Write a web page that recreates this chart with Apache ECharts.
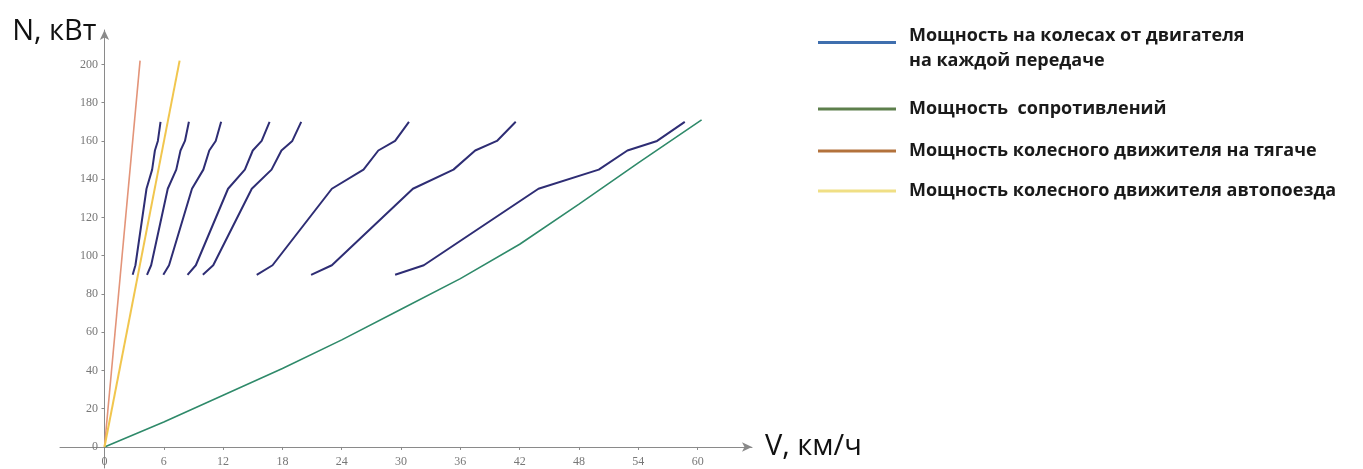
<!DOCTYPE html>
<html>
<head>
<meta charset="utf-8">
<script src="https://cdn.jsdelivr.net/npm/echarts@6/dist/echarts.min.js"></script>
<style>
  html, body { margin: 0; padding: 0; background: #fff; }
  #main { width: 1363px; height: 469px; }
</style>
</head>
<body>
<div id="main"></div>
<script>
// мощность на колесах - одинаковые уровни N для всех передач
var gearPower = [90, 95, 135, 145, 155, 160, 170];
var gear1 = [2.85, 3.13, 4.25, 4.82, 5.10, 5.40, 5.67];
var gear2 = [4.30, 4.72, 6.40, 7.26, 7.69, 8.14, 8.54];
var gear3 = [5.95, 6.53, 8.85, 10.0, 10.6, 11.25, 11.8];
var gear4 = [8.40, 9.24, 12.5, 14.2, 15.0, 15.9, 16.7];
var gear5 = [9.95, 11.0, 14.9, 16.9, 17.9, 19.0, 19.9];
var gear6 = [15.4, 17.0, 23.0, 26.2, 27.7, 29.4, 30.8];
var gear7 = [20.9, 23.0, 31.2, 35.3, 37.5, 39.7, 41.6];
var gear8 = [29.4, 32.3, 43.9, 50.0, 52.9, 55.9, 58.7];

// мощность сопротивлений
var resistSpeed = [0, 6, 12, 18, 24, 30, 36, 42, 48, 54, 60.4];
var resistPower = [0, 13, 27, 41, 56, 72, 88, 106, 127, 148.5, 171];

// колесный движитель
var tractorSpeed = [0, 3.6];
var tractorPower = [0, 202];
var trainSpeed = [0, 7.6];
var trainPower = [0, 202];

var xTicks = [0, 6, 12, 18, 24, 30, 36, 42, 48, 54, 60];
var yTicks = [0, 20, 40, 60, 80, 100, 120, 140, 160, 180, 200];

var nameGear = 'Мощность на колесах от двигателя\nна каждой передаче';
var nameResist = 'Мощность  сопротивлений';
var nameTractor = 'Мощность колесного движителя на тягаче';
var nameTrain = 'Мощность колесного движителя автопоезда';

function pairs(xs, ys) {
    var out = [];
    for (var i = 0; i < xs.length; i++) {
        out.push([xs[i], ys[i]]);
    }
    return out;
}

var series = [];
var gears = [gear1, gear2, gear3, gear4, gear5, gear6, gear7, gear8];
for (var g = 0; g < gears.length; g++) {
    series.push({
        name: nameGear,
        type: 'line',
        data: pairs(gears[g], gearPower),
        showSymbol: false,
        lineStyle: { color: '#2e2d74', width: 2 },
        itemStyle: { color: '#2e2d74' }
    });
}
series.push({
    name: nameResist, type: 'line', data: pairs(resistSpeed, resistPower), showSymbol: false,
    lineStyle: { color: '#2f8a6a', width: 1.6 }, itemStyle: { color: '#2f8a6a' }
});
series.push({
    name: nameTractor, type: 'line', data: pairs(tractorSpeed, tractorPower), showSymbol: false,
    lineStyle: { color: '#e39479', width: 1.6 }, itemStyle: { color: '#e39479' }
});
series.push({
    name: nameTrain, type: 'line', data: pairs(trainSpeed, trainPower), showSymbol: false,
    lineStyle: { color: '#f1c64e', width: 2 }, itemStyle: { color: '#f1c64e' }
});

var legendText = {
    fontFamily: 'Open Sans',
    fontWeight: 'bold',
    fontSize: 18,
    lineHeight: 22,
    color: '#1a1a1a',
    padding: [0, 0, 0, 8]
};

function makeLegend(name, color, top, extra) {
    var lg = {
        orient: 'vertical',
        left: 813,
        top: top,
        icon: 'rect',
        itemWidth: 78,
        itemHeight: 3,
        itemStyle: { color: color },
        textStyle: legendText,
        data: [name],
        selectedMode: false
    };
    return Object.assign(lg, extra || {});
}

// первая запись в две строки, линия на уровне первой строки
var gearLegendExtra = {
    formatter: function (name) {
        var parts = name.split('\n');
        return '{s| }\n{t|' + parts[0] + '}\n{t|' + parts[1] + '}';
    },
    textStyle: Object.assign({}, legendText, {
        rich: {
            s: { fontSize: 8, lineHeight: 11 },
            t: { fontFamily: 'Open Sans', fontWeight: 'bold', fontSize: 18, lineHeight: 25, color: '#1a1a1a' }
        }
    })
};

var axisLabelStyle = {
    fontFamily: 'Liberation Serif',
    fontSize: 12,
    color: '#777'
};

var option = {
    animation: false,
    backgroundColor: '#fff',
    grid: { left: 60, right: 611, top: 30, bottom: 1, outerBoundsMode: 'none', containLabel: false },
    legend: [
        makeLegend(nameGear, '#3f6fae', 7, gearLegendExtra),
        makeLegend(nameResist, '#5d7f4c', 93),
        makeLegend(nameTractor, '#b3723c', 135),
        makeLegend(nameTrain, '#f0df85', 175)
    ],
    xAxis: {
        type: 'value',
        min: -4.5,
        max: 65.5,
        name: 'V, км/ч',
        nameLocation: 'end',
        nameGap: 13,
        nameTextStyle: { fontFamily: 'Open Sans', fontSize: 29, color: '#111', verticalAlign: 'middle' },
        axisLine: { onZero: true, lineStyle: { color: '#8a8a8a', width: 1 }, symbol: ['none', 'arrow'], symbolSize: [7, 10] },
        axisTick: { show: true, length: 3, customValues: xTicks, lineStyle: { color: '#8a8a8a' } },
        axisLabel: Object.assign({ margin: -12, customValues: xTicks }, axisLabelStyle),
        splitLine: { show: false }
    },
    yAxis: {
        type: 'value',
        min: -11,
        max: 218,
        name: 'N, кВт',
        nameLocation: 'end',
        nameGap: -2,
        nameTextStyle: { fontFamily: 'Open Sans', fontSize: 29, color: '#111', align: 'right', verticalAlign: 'middle', padding: [0, 8, 0, 0] },
        axisLine: { onZero: true, lineStyle: { color: '#8a8a8a', width: 1 }, symbol: ['none', 'arrow'], symbolSize: [7, 10] },
        axisTick: { show: true, length: 3, customValues: yTicks, lineStyle: { color: '#8a8a8a' } },
        axisLabel: Object.assign({ margin: -38, customValues: yTicks }, axisLabelStyle),
        splitLine: { show: false }
    },
    series: series
};

var myChart = echarts.init(document.getElementById('main'));
myChart.setOption(option);
</script>
</body>
</html>
